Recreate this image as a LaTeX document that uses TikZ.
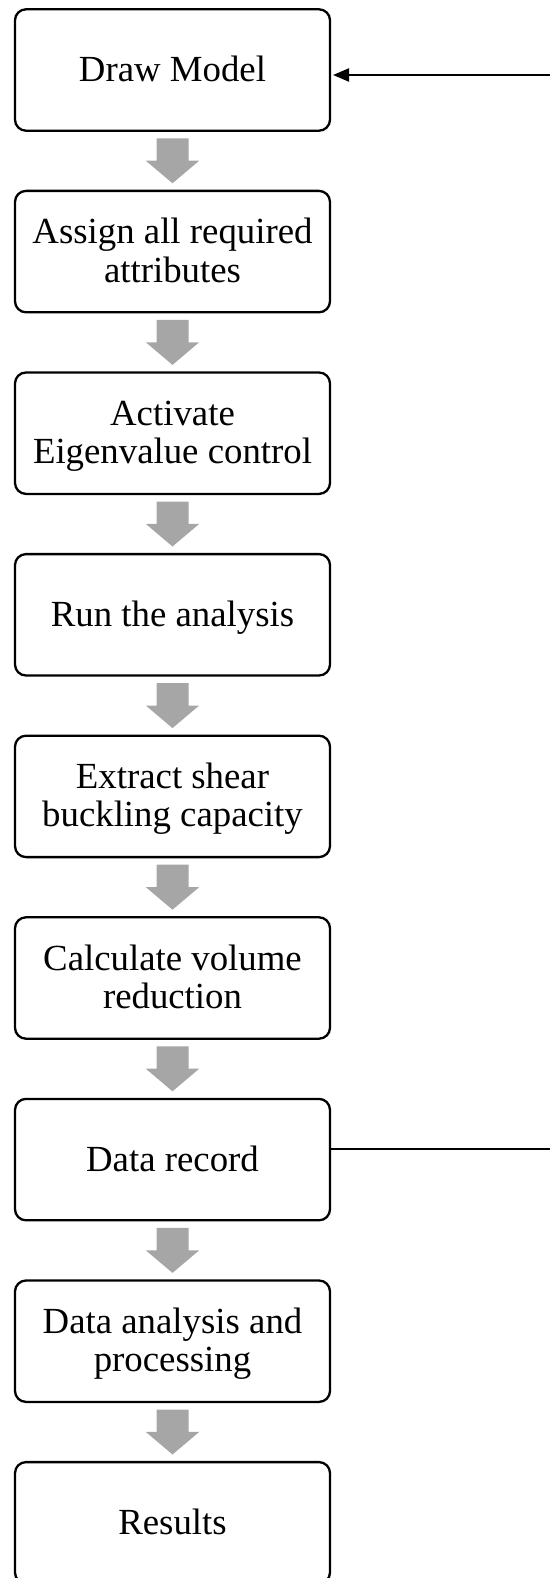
\documentclass[tikz,border=0pt]{standalone}
\usepackage{fontspec}
\setmainfont{Liberation Serif}
\usetikzlibrary{arrows.meta,calc}
\definecolor{arrowgray}{RGB}{166,166,166}
\begin{document}
\begin{tikzpicture}[x=1pt,y=1pt,
  box/.style={draw=black, line width=2.3pt, rounded corners=11pt, fill=white,
    minimum width=315pt, minimum height=121.4pt, inner sep=0pt, outer sep=0pt,
    font=\fontsize{36.8}{38.5}\selectfont},
  oneline/.style={box, text height=23.4pt, text depth=0pt},
  twoline/.style={box, text height=23.4pt, text depth=39.4pt},
  flowarrow/.style={fill=arrowgray},
  feedback/.style={draw=black, line width=2.2pt}]
\useasboundingbox (0,0) rectangle (549,-1578);
\node[oneline] (b1) at (172.5,-70) {\begin{tabular}[t]{@{}c@{}}Draw Model\end{tabular}};
\node[twoline] (b2) at (172.5,-251.6) {\begin{tabular}[t]{@{}c@{}}Assign all required\\attributes\end{tabular}};
\node[twoline] (b3) at (172.5,-433.2) {\begin{tabular}[t]{@{}c@{}}Activate\\Eigenvalue control\end{tabular}};
\node[oneline] (b4) at (172.5,-614.8) {\begin{tabular}[t]{@{}c@{}}Run the analysis\end{tabular}};
\node[twoline] (b5) at (172.5,-796.4) {\begin{tabular}[t]{@{}c@{}}Extract shear\\buckling capacity\end{tabular}};
\node[twoline] (b6) at (172.5,-978) {\begin{tabular}[t]{@{}c@{}}Calculate volume\\reduction\end{tabular}};
\node[oneline] (b7) at (172.5,-1159.6) {\begin{tabular}[t]{@{}c@{}}Data record\end{tabular}};
\node[twoline] (b8) at (172.5,-1341.2) {\begin{tabular}[t]{@{}c@{}}Data analysis and\\processing\end{tabular}};
\node[oneline] (b9) at (172.5,-1522.8) {\begin{tabular}[t]{@{}c@{}}Results\end{tabular}};
\foreach \n in {b1,b2,b3,b4,b5,b6,b7,b8}{
  \fill[flowarrow] ([shift={(-16,-7.6)}]\n.south) -- ([shift={(16,-7.6)}]\n.south)
    -- ([shift={(16,-30)}]\n.south) -- ([shift={(26.7,-30)}]\n.south)
    -- ([shift={(0,-52.6)}]\n.south) -- ([shift={(-26.7,-30)}]\n.south)
    -- ([shift={(-16,-30)}]\n.south) -- cycle;
}
\coordinate (ra) at (600,-1149.3);
\coordinate (rb) at (600,-75);
\draw[feedback, -{Triangle[length=16pt,width=13pt]}, shorten >=3pt]
  (b7.east |- ra) -- (ra) -- (rb) -- (b1.east |- rb);
\end{tikzpicture}
\end{document}
